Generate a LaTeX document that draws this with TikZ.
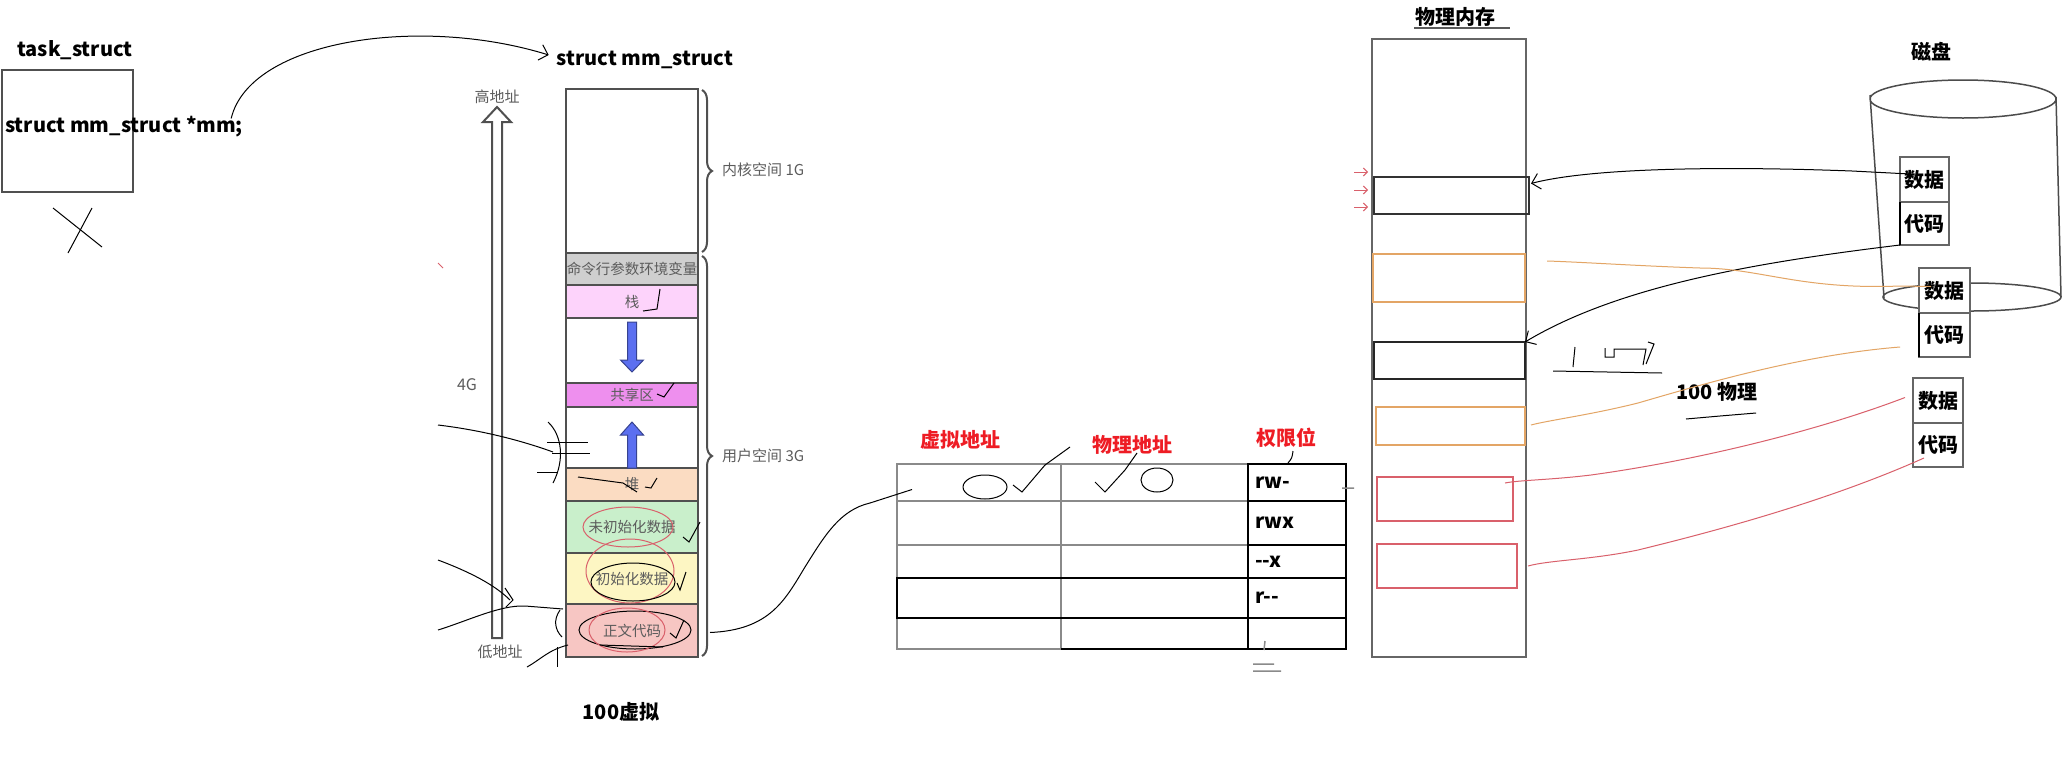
\documentclass[tikz,border=0pt]{standalone}
\usepackage{fontspec}
\setmainfont{Noto Sans CJK SC}
\usepackage{tikz}
\usetikzlibrary{arrows.meta, positioning, calc, decorations.pathreplacing}
\definecolor{segline}{HTML}{505050}
\definecolor{labgray}{HTML}{5C5C5C}
\definecolor{cmdgray}{HTML}{CFCFCF}
\definecolor{stackpink}{HTML}{FDD3FB}
\definecolor{sharepink}{HTML}{EE8FEE}
\definecolor{heappeach}{HTML}{FBDCC2}
\definecolor{bssgreen}{HTML}{C9EFCB}
\definecolor{datayellow}{HTML}{FDF6C3}
\definecolor{textred}{HTML}{F7C6C3}
\definecolor{arrowblue}{HTML}{5B6FF0}
\definecolor{tabgray}{HTML}{8A8A8A}
\definecolor{headred}{HTML}{EE1C24}
\definecolor{orangeink}{HTML}{E3A565}
\definecolor{redink}{HTML}{D9606B}

\begin{document}
\begin{tikzpicture}[x=1pt, y=-1pt,
    big/.style={font=\fontsize{20}{24}\selectfont\bfseries, inner sep=0pt},
    note/.style={font=\fontsize{15}{17}\selectfont, text=labgray, inner sep=0pt},
    seg/.style={draw=segline, line width=2pt, minimum width=132pt, minimum height=#1,
                inner sep=0pt, outer sep=0pt, font=\fontsize{14.5}{16}\selectfont, text=labgray},
    cell/.style={draw=tabgray, line width=1.5pt, inner sep=0pt, outer sep=0pt, minimum width=#1},
    perm/.style={draw=black, line width=2pt, text width=84pt, inner xsep=7pt, inner ysep=0pt,
                 outer sep=0pt, align=left, font=\fontsize{20}{24}\selectfont\bfseries},
    frame/.style={draw=#1, line width=1.5pt, inner sep=0pt, outer sep=0pt},
    disk/.style={draw=gray!80!black, line width=1.5pt, fill=white, inner sep=0pt, outer sep=0pt,
                 font=\fontsize{20}{24}\selectfont\bfseries},
    ink/.style={draw=black, line width=1pt},
    redline/.style={draw=redink, line width=1pt},
    brace/.style={decorate, decoration={brace, amplitude=10pt}, draw=segline, line width=2pt},
    barb/.style={-{Straight Barb[length=8pt, width=16pt]}}
]
\useasboundingbox (0,0) rectangle (2069,761);
\fill[white] (0,0) rectangle (2069,761);

\node[big] (tasklbl) at (75,50) {task\_struct};
\node[draw=segline, line width=1.5pt, minimum width=131pt, minimum height=122pt, anchor=north west] (task) at (1,69) {};
\node[big, anchor=west] (mmptr) at (5,127) {struct mm\_struct *mm;};
\node[big] (mmtitle) at (645,60) {struct mm\_struct};

\node[seg=164pt, anchor=north] (kern) at (632,89) {};
\node[seg=32pt, fill=cmdgray, below=0pt of kern] (cmd) {命令行参数环境变量};
\node[seg=33pt, fill=stackpink, below=0pt of cmd] (stk) {栈};
\node[seg=65pt, below=0pt of stk] (gapa) {};
\node[seg=24pt, fill=sharepink, below=0pt of gapa] (shm) {共享区};
\node[seg=61pt, below=0pt of shm] (gapb) {};
\node[seg=33pt, fill=heappeach, below=0pt of gapb] (heap) {堆};
\node[seg=52pt, fill=bssgreen, below=0pt of heap] (bss) {未初始化数据};
\node[seg=51pt, fill=datayellow, below=0pt of bss] (dat) {初始化数据};
\node[seg=53pt, fill=textred, below=0pt of dat] (txt) {正文代码};

\draw[fill=arrowblue, draw=arrowblue!60!black, line width=1pt]
  (627.5,322) -- (636.5,322) -- (636.5,360) -- (643.5,360) -- (632,372) -- (620.5,360) -- (627.5,360) -- cycle;
\draw[fill=arrowblue, draw=arrowblue!60!black, line width=1pt]
  (632,422) -- (643.5,435) -- (636.5,435) -- (636.5,468) -- (627.5,468) -- (627.5,435) -- (620.5,435) -- cycle;
\draw[fill=white, draw=segline, line width=2pt]
  (492,638) -- (492,122) -- (483,122) -- (497,107) -- (511,122) -- (502,122) -- (502,638) -- cycle;

\node[note] (hiaddr) at (497,97) {高地址};
\node[note, font=\fontsize{16}{18}\selectfont] (four) at (467,385) {4G};
\node[note] (loaddr) at (500,652) {低地址};
\draw[brace] ($(kern.north east)+(4,1)$) -- ($(kern.south east)+(4,-1)$);
\draw[brace] ($(cmd.north east)+(4,3)$) -- ($(txt.south east)+(4,-1)$);
\node[note, anchor=west] (kspace) at (722,170) {内核空间 1G};
\node[note, anchor=west] (uspace) at (722,456) {用户空间 3G};
\node[big] (virt) at (621,712) {100虚拟};

\node[big, text=headred] (vahead) at (960,440) {虚拟地址};
\node[big, text=headred] (pahead) at (1132,445) {物理地址};
\node[big, text=headred] (pmhead) at (1286,438) {权限位};
\foreach \r/\t/\h/\p in {1/464/37/rw-, 2/501/44/rwx, 3/545/33/-{}-x, 4/578/40/r-{}-, 5/618/31/} {
  \node[cell=164pt, minimum height=\h pt, anchor=north west] (va\r) at (897,\t) {};
  \node[cell=187pt, minimum height=\h pt, anchor=north west] (pa\r) at (1061,\t) {};
  \node[perm, minimum height=\h pt, anchor=north west] (pm\r) at (1248,\t) {\p};
}
\draw[line width=2pt] (va4.north west) rectangle (pa4.south east);
\draw[line width=2pt] (pa5.south west) -- (pa5.south east);

\node[big] (pmtitle) at (1455,17) {物理内存};
\node[frame=gray!80!black, minimum width=154pt, minimum height=618pt, anchor=north west] (pmem) at (1372,39) {};
\node[frame=black!80, minimum width=155pt, minimum height=37pt] (fa) at (1451.5,195.5) {};
\node[frame=orangeink, minimum width=152pt, minimum height=48pt] (fb) at (1449,278) {};
\node[frame=black!85, minimum width=151pt, minimum height=37pt] (fc) at (1449.5,360.5) {};
\node[frame=orangeink, minimum width=149pt, minimum height=38pt] (fd) at (1450.5,426) {};
\node[frame=redink, minimum width=136pt, minimum height=44pt] (fe) at (1445,499) {};
\node[frame=redink, minimum width=140pt, minimum height=44pt] (ff) at (1447,566) {};

\node[big] (disklbl) at (1931,52) {磁盘};
\draw[draw=gray!60!black, line width=1.5pt] (1870,95) -- (1884,298) (2056,97) -- (2061,297)
  (1963,99) ellipse [x radius=93pt, y radius=19pt] (1972,297) ellipse [x radius=89pt, y radius=14pt];
\node[disk, minimum width=49pt, minimum height=45pt] (d1) at (1924.5,179.5) {数据};
\node[disk, minimum width=49pt, minimum height=43pt, below=0pt of d1] (c1) {代码};
\node[disk, minimum width=51pt, minimum height=45pt] (d2) at (1944.5,290.5) {数据};
\node[disk, minimum width=51pt, minimum height=44pt, below=0pt of d2] (c2) {代码};
\node[disk, minimum width=50pt, minimum height=45pt] (d3) at (1938,400.5) {数据};
\node[disk, minimum width=50pt, minimum height=44pt, below=0pt of d3] (c3) {代码};
\draw[line width=1.5pt] (c1.north west) -- (c1.south west) (c2.north west) -- (c2.south west);
\node[big] (physlbl) at (1717,392) {100 物理};

\draw[ink, barb] ($(mmptr.north east)+(-12,2)$) .. controls (250,40) and (420,15) .. ($(mmtitle.west)+(-8,-5)$);
\draw[ink] ($(txt.east)+(12,2)$) .. controls (770,630) and (785,600) .. (805,567)
  .. controls (825,535) and (840,510) .. (870,503) -- ($(va1.west)+(15,7)$);
\draw[ink, barb] ($(d1.north west)+(10,17)$) -- (1852,171) .. controls (1720,166) and (1590,168) .. ($(fa.east)+(2,-12)$);
\draw[ink, barb] (c1.south west) .. controls (1760,262) and (1620,285) .. (fc.north east);
\draw[draw=orangeink, line width=1pt] ($(d2.west)+(12,-4)$) -- (1900,286) .. controls (1800,290) and (1760,268) .. (1700,268)
  .. controls (1640,266) and (1580,262) .. ($(fb.east)+(22,-17)$);
\draw[draw=orangeink, line width=1pt] ($(c2.south west)+(-19,-10)$) .. controls (1800,355) and (1700,385) .. (1638,403)
  .. controls (1590,415) and (1550,420) .. ($(fd.east)+(6,-1)$);
\draw[redline] ($(d3.west)+(-8,-3)$) .. controls (1820,430) and (1700,460) .. (1591,475)
  .. controls (1550,480) and (1520,480) .. ($(fe.east)+(-8,-16)$);
\draw[redline] ($(c3.west)+(11,13)$) .. controls (1830,500) and (1720,530) .. (1638,550)
  .. controls (1590,560) and (1550,560) .. ($(ff.east)+(11,0)$);

\draw[ink] (53,208) -- (102,247) (92,208) -- (68,253);
\draw[ink] (643,311) -- (657,309) -- (660,289);
\draw[ink] (657,394) -- (664,397) -- (674,383);
\draw[ink] (645,487) -- (651,488) -- (657,478);
\draw[ink] (578,477) -- (623,483) -- (637,492);
\draw[redline] (628,527) ellipse [x radius=45pt, y radius=20pt];
\draw[ink] (683,537) -- (689,542) -- (700,522);
\draw[redline] (630,571) ellipse [x radius=44pt, y radius=32pt];
\draw[ink] (633,582) ellipse [x radius=42pt, y radius=19pt];
\draw[ink] (677,583) -- (680,590) -- (686,572);
\draw[ink] (635,630) ellipse [x radius=56pt, y radius=19pt];
\draw[redline] (627,630) ellipse [x radius=38pt, y radius=22pt];
\draw[ink] (670,633) -- (676,638) -- (684,620);
\draw[ink] (600,645) -- (663,647);
\draw[ink] (438,425) .. controls (480,430) and (520,440) .. (553,452);
\draw[ink] (547,442) -- (588,442) (552,453) -- (590,453) (537,472) -- (557,472);
\draw[ink] (548,422) .. controls (562,435) and (565,460) .. (553,483);
\draw[ink] (438,560) .. controls (470,572) and (495,585) .. (510,600);
\draw[ink] (505,588) -- (513,600) -- (506,607);
\draw[ink] (438,630) .. controls (470,620) and (500,605) .. (525,606) -- (563,609);
\draw[ink] (560,610) .. controls (553,620) and (555,630) .. (562,637);
\draw[ink] (527,667) .. controls (540,660) and (548,650) .. (568,645);
\draw[ink] (557,647) -- (557,667);
\draw[redline] (438,263) -- (443,268);

\draw[ink] (985,487) ellipse [x radius=22pt, y radius=12pt];
\draw[ink] (1013,485) -- (1022,492) -- (1045,465) -- (1070,447);
\draw[ink] (1095,482) -- (1105,492) -- (1125,470) -- (1137,453);
\draw[ink] (1157,480) ellipse [x radius=16pt, y radius=12pt];
\draw[ink] (1293,451) .. controls (1292,458) .. (1288,463);
\draw[draw=tabgray, line width=1.5pt] (1253,664) -- (1274,664) (1253,671) -- (1281,671)
  (1265,641) -- (1264,650) (1342,488) -- (1354,488);

\draw[draw=gray!70!black, line width=1.5pt] (1414,28) -- (1510,28);
\foreach \yy in {172,190,207}
  \draw[redline, -{Straight Barb[length=4pt, width=8pt]}] (1354,\yy) -- (1368,\yy);
\draw[ink] (1575,347) -- (1573,367);
\draw[ink] (1605,348) -- (1605,357) -- (1614,357) -- (1614,349) -- (1646,349) -- (1643,365);
\draw[ink] (1648,342) -- (1654,344) -- (1646,364);
\draw[ink] (1553,371) -- (1662,373);
\draw[ink] (1686,419) -- (1720,416) -- (1756,413);
\end{tikzpicture}
\end{document}
